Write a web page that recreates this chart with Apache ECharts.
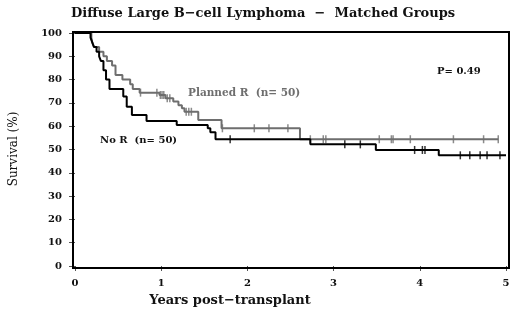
<!DOCTYPE html>
<html><head><meta charset="utf-8">
<script src="https://cdn.jsdelivr.net/npm/echarts@6/dist/echarts.min.js"></script>
<style>html,body{margin:0;padding:0;background:#fff}#c{width:520px;height:312px}</style>
</head><body><div id="c"></div>
<script>
const titleText = 'Diffuse Large B\u2212cell Lymphoma  \u2212  Matched Groups';
const xAxisTitle = 'Years post\u2212transplant';
const yAxisTitle = 'Survival (%)';
const xTicks = [0, 1, 2, 3, 4, 5];
const yTicks = [0, 10, 20, 30, 40, 50, 60, 70, 80, 90, 100];
const plannedName = 'Planned R  (n= 50)';
const noRName = 'No R  (n= 50)';
const pValue = 'P= 0.49';
const plannedSteps = [[0,100],[0.19,98],[0.20,96],[0.22,94],[0.28,92],[0.33,90],[0.37,88],[0.43,86],[0.47,82],[0.55,80],[0.64,78],[0.67,76],[0.75,74.4],[0.98,73.4],[1.05,72],[1.14,70.6],[1.20,69],[1.24,67.7],[1.27,66.2],[1.43,62.7],[1.70,59.1],[2.61,54.4],[4.91,54.4]];
const plannedCensor = [[0.76,74.4],[0.95,74.4],[0.99,73.4],[1.01,73.4],[1.03,73.4],[1.07,72],[1.10,72],[1.29,66.2],[1.32,66.2],[1.35,66.2],[1.71,59.1],[2.08,59.1],[2.25,59.1],[2.47,59.1],[2.73,54.4],[2.88,54.4],[2.91,54.4],[3.53,54.4],[3.67,54.4],[3.69,54.4],[3.89,54.4],[4.39,54.4],[4.74,54.4],[4.91,54.4]];
const noRSteps = [[0,100],[0.18,98],[0.20,96],[0.22,94],[0.25,92],[0.28,90],[0.30,88],[0.33,84],[0.36,80],[0.40,76],[0.56,72.8],[0.60,68.4],[0.66,64.8],[0.83,62.2],[1.18,60.5],[1.54,59.1],[1.57,57.4],[1.63,54.4],[2.73,52.2],[3.49,49.8],[4.22,47.5],[5.0,47.5]];
const noRCensor = [[1.80,54.4],[3.13,52.2],[3.31,52.2],[3.94,49.8],[4.03,49.8],[4.06,49.8],[4.47,47.5],[4.58,47.5],[4.70,47.5],[4.78,47.5],[4.93,47.5]];

const GRAY = '#6e6e6e';
const FONT = 'DejaVu Serif';
const chart = echarts.init(document.getElementById('c'), null, {renderer:'canvas'});
chart.setOption({
  animation: false,
  backgroundColor: '#fff',
  title: {text: titleText, left: 258, top: 2, textAlign: 'center',
    textStyle: {fontFamily: FONT, fontWeight: 'bold', fontSize: 13, color: '#111'}},
  grid: {left: 75, right: 14, top: 33, bottom: 46},
  xAxis: {type: 'value', min: 0, max: 5, interval: 1, offset: 2,
    axisLine: {show: false}, splitLine: {show: false},
    axisTick: {show: true, length: 5, lineStyle: {color: '#555'}},
    axisLabel: {fontFamily: FONT, fontWeight: 'bold', fontSize: 10, color: '#111', margin: 10,
      formatter: v => xTicks.includes(v) ? String(v) : ''}},
  yAxis: {type: 'value', min: 0, max: 100, interval: 10, offset: 2,
    axisLine: {show: false}, splitLine: {show: false},
    axisTick: {show: true, length: 6, lineStyle: {color: '#555'}},
    axisLabel: {fontFamily: FONT, fontWeight: 'bold', fontSize: 10, color: '#111', margin: 11,
      formatter: v => yTicks.includes(v) ? String(v) : ''}},
  graphic: [
    {type: 'rect', shape: {x: 73, y: 32, width: 436, height: 236}, z: 100,
      style: {fill: 'none', stroke: '#000', lineWidth: 2}},
    {type: 'text', x: 230, y: 301, z: 100,
      style: {text: xAxisTitle, font: 'bold 13px "DejaVu Serif"', fill: '#111', align: 'center', verticalAlign: 'middle'}},
    {type: 'text', x: 14, y: 149, rotation: Math.PI / 2, z: 100,
      style: {text: yAxisTitle, font: '12px "DejaVu Serif"', fill: '#111', align: 'center', verticalAlign: 'middle'}},
    {type: 'text', left: 437, top: 66, z: 100,
      style: {text: pValue, font: 'bold 10px "DejaVu Serif"', fill: '#111'}},
    {type: 'text', left: 188, top: 88, z: 100,
      style: {text: plannedName, font: 'bold 10.5px "DejaVu Serif"', fill: GRAY}},
    {type: 'text', left: 100, top: 135, z: 100,
      style: {text: noRName, font: 'bold 10px "DejaVu Serif"', fill: '#111'}}
  ],
  series: [
    {type: 'line', step: 'end', data: plannedSteps, showSymbol: false,
      lineStyle: {color: GRAY, width: 2}, z: 2},
    {type: 'scatter', data: plannedCensor, symbol: 'rect', symbolSize: [1.5, 8],
      itemStyle: {color: GRAY}, z: 3},
    {type: 'line', step: 'end', data: noRSteps, showSymbol: false,
      lineStyle: {color: '#000', width: 2}, z: 4},
    {type: 'scatter', data: noRCensor, symbol: 'rect', symbolSize: [1.5, 8],
      itemStyle: {color: '#000'}, z: 5}
  ]
});
</script></body></html>
